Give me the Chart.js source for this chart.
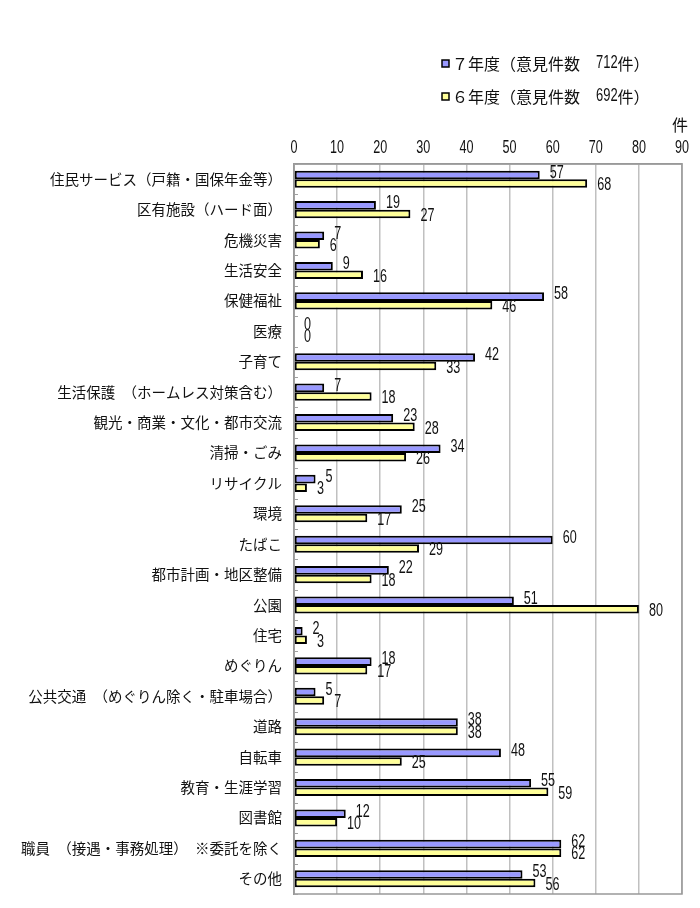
<!DOCTYPE html>
<html>
<head>
<meta charset="utf-8">
<script src="https://cdn.jsdelivr.net/npm/chart.js@4/dist/chart.umd.min.js"></script>
<style>
html,body{margin:0;padding:0;background:#fff;}
canvas{display:block;}
</style>
</head>
<body>
<canvas id="c" width="700" height="908"></canvas>
<script>
const categories = [
  "住民サービス（戸籍・国保年金等）",
  "区有施設（ハード面）",
  "危機災害",
  "生活安全",
  "保健福祉",
  "医療",
  "子育て",
  "生活保護　（ホームレス対策含む）",
  "観光・商業・文化・都市交流",
  "清掃・ごみ",
  "リサイクル",
  "環境",
  "たばこ",
  "都市計画・地区整備",
  "公園",
  "住宅",
  "めぐりん",
  "公共交通　（めぐりん除く・駐車場合）",
  "道路",
  "自転車",
  "教育・生涯学習",
  "図書館",
  "職員　（接遇・事務処理）　※委託を除く",
  "その他"
];
const valuesR7 = [57,19,7,9,58,0,42,7,23,34,5,25,60,22,51,2,18,5,38,48,55,12,62,53];
const valuesR6 = [68,27,6,16,46,0,33,18,28,26,3,17,29,18,80,3,17,7,38,25,59,10,62,56];
const seriesNames = ["７年度（意見件数　712件）", "６年度（意見件数　692件）"];
const xTicks = [0,10,20,30,40,50,60,70,80,90];
const unitLabel = "件";

const NUMF = "'Liberation Sans','DejaVu Sans',sans-serif";
const CJK = "'Noto Sans CJK JP','Noto Sans',sans-serif";

// draw horizontally condensed text
function narrowText(ctx, txt, x, y, size, sx, align) {
  ctx.save();
  ctx.font = size + "px " + NUMF;
  const w = ctx.measureText(txt).width * sx;
  let left = x;
  if (align === 'center') left = x - w / 2;
  else if (align === 'right') left = x - w;
  ctx.translate(left, y);
  ctx.scale(sx, 1);
  ctx.textAlign = 'left';
  ctx.fillText(txt, 0, 0);
  ctx.restore();
  return w;
}

const labelPlugin = {
  id: 'valueLabels',
  afterDatasetsDraw(chart) {
    const ctx = chart.ctx;
    ctx.save();
    ctx.fillStyle = "#111";
    ctx.textBaseline = "middle";
    chart.data.datasets.forEach((ds, di) => {
      const meta = chart.getDatasetMeta(di);
      meta.data.forEach((el, i) => {
        const dy = di === 0 ? -2 : 2;
        narrowText(ctx, String(ds.data[i]), el.x + 10, el.y + dy, 17.5, 0.72, 'left');
      });
    });
    ctx.restore();
  }
};

const decoPlugin = {
  id: 'deco',
  beforeDatasetsDraw(chart) {
    const ctx = chart.ctx;
    const a = chart.chartArea;
    ctx.save();
    ctx.strokeStyle = "#999";
    ctx.lineWidth = 1.5;
    ctx.strokeRect(a.left, a.top, a.right - a.left, a.bottom - a.top);
    ctx.restore();
  },
  afterDraw(chart) {
    const ctx = chart.ctx;
    const ys = chart.scales.y, xs = chart.scales.x;
    ctx.save();
    // minor inside ticks on category axis
    ctx.strokeStyle = "#a0a0a0";
    ctx.lineWidth = 1;
    for (let i = 0; i <= categories.length; i++) {
      const y = Math.round(ys.getPixelForValue(i - 0.5)) + 0.5;
      ctx.beginPath();
      ctx.moveTo(xs.left, y);
      ctx.lineTo(xs.left + 4, y);
      ctx.stroke();
    }
    // x tick labels
    ctx.fillStyle = "#111";
    ctx.textBaseline = "middle";
    xTicks.forEach(v => {
      narrowText(ctx, String(v), xs.getPixelForValue(v), 148, 17.5, 0.72, 'center');
    });
    // unit label
    ctx.font = "16px " + CJK;
    ctx.textAlign = "center";
    ctx.fillText(unitLabel, xs.getPixelForValue(90) - 2, 125);
    // legend
    chart.data.datasets.forEach((ds, di) => {
      const y = 63.5 + di * 33;
      ctx.fillStyle = ds.backgroundColor;
      ctx.fillRect(442, y - 3.5, 7, 7);
      ctx.strokeStyle = "#000";
      ctx.lineWidth = 1.5;
      ctx.strokeRect(442, y - 3.5, 7, 7);
      ctx.fillStyle = "#111";
      ctx.textAlign = "left";
      ctx.textBaseline = "middle";
      const parts = ds.label.match(/[0-9]+|[^0-9]+/g);
      let x = 452;
      parts.forEach(p => {
        if (/^[0-9]+$/.test(p)) {
          x += narrowText(ctx, p, x, y, 18, 0.72, 'left');
        } else {
          ctx.font = "16px " + CJK;
          ctx.fillText(p, x, y);
          x += ctx.measureText(p).width;
        }
      });
    });
    ctx.restore();
  }
};

new Chart(document.getElementById('c'), {
  type: 'bar',
  data: {
    labels: categories,
    datasets: [
      { label: seriesNames[0], data: valuesR7, backgroundColor: '#9999ff', borderColor: '#000', borderWidth: 2, borderSkipped: false },
      { label: seriesNames[1], data: valuesR6, backgroundColor: '#ffff99', borderColor: '#000', borderWidth: 2, borderSkipped: false }
    ]
  },
  options: {
    indexAxis: 'y',
    responsive: false,
    animation: false,
    categoryPercentage: 0.56,
    barPercentage: 1.0,
    layout: { padding: { top: 120, right: 18, bottom: 14, left: 0 } },
    plugins: { legend: { display: false }, tooltip: { enabled: false } },
    scales: {
      x: {
        position: 'top',
        min: 0, max: 90,
        afterBuildTicks(scale) { scale.ticks = xTicks.map(v => ({ value: v })); },
        afterFit(scale) { scale.height = 44; scale.paddingLeft = 0; scale.paddingRight = 0; },
        ticks: { font: { family: NUMF, size: 12 }, color: 'rgba(0,0,0,0)', padding: 14 },
        grid: { color: '#c0c0c0', lineWidth: 1.5, drawTicks: false },
        border: { color: '#999', width: 1.5 }
      },
      y: {
        afterFit(scale) { scale.width = 294; scale.paddingTop = 0; scale.paddingBottom = 0; },
        ticks: { font: { family: CJK, size: 14.5 }, color: '#111', padding: 12, autoSkip: false },
        grid: { display: false, drawTicks: false },
        border: { color: '#999', width: 1.5 }
      }
    }
  },
  plugins: [labelPlugin, decoPlugin]
});
</script>
</body>
</html>
